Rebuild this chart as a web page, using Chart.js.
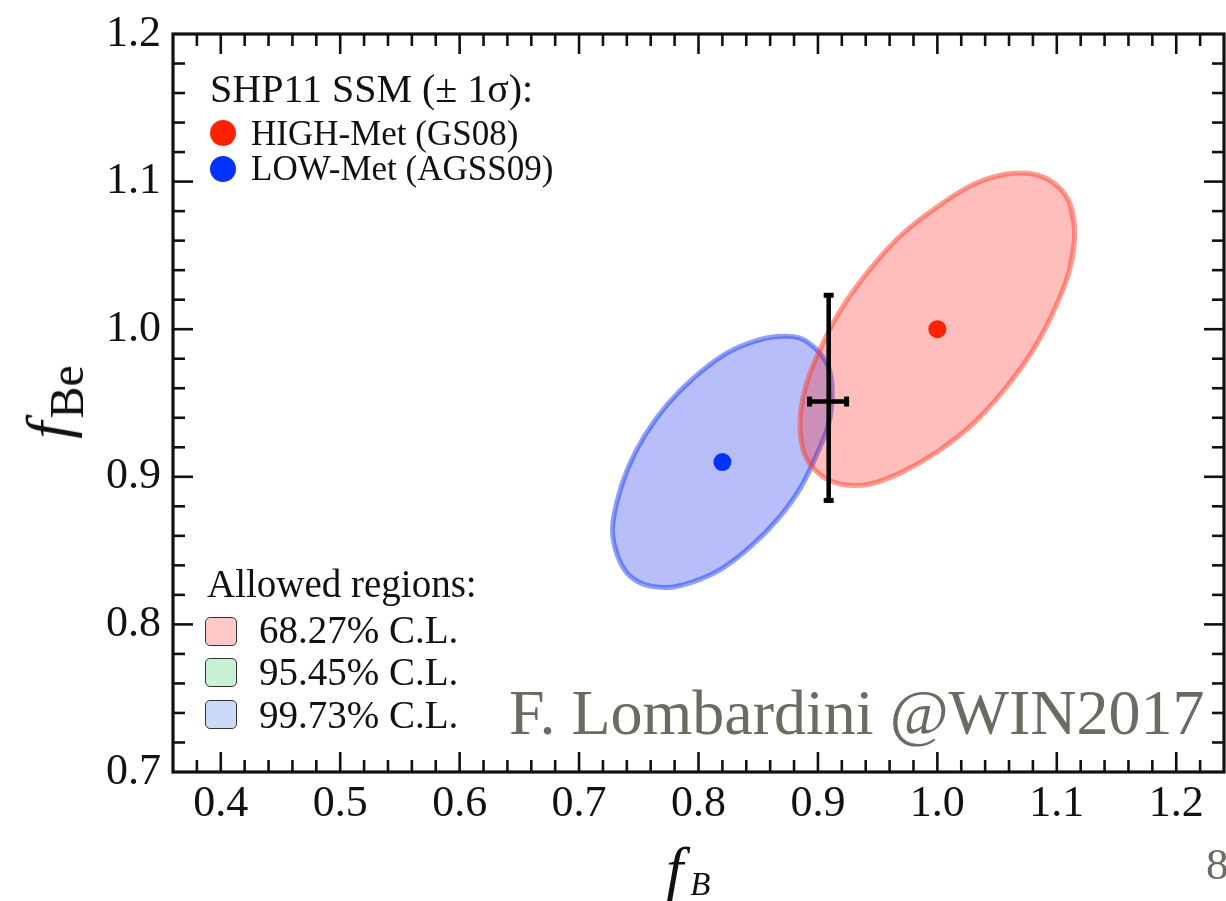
<!DOCTYPE html>
<html>
<head>
<meta charset="utf-8">
<script src="https://cdn.jsdelivr.net/npm/chart.js@4.4.1/dist/chart.umd.min.js"></script>
<style>
  body { margin: 0; background: #fff; overflow: hidden; }
  #wrap { position: relative; width: 1226px; height: 901px; font-family: "Liberation Serif", "DejaVu Serif", serif; color: #111; }
  #wrap canvas { position: absolute; left: 0; top: 0; }
  .txt { position: absolute; white-space: nowrap; line-height: 1; }
  .dot { position: absolute; width: 26px; height: 26px; border-radius: 50%; }
  .box { position: absolute; width: 30px; height: 27px; border: 1.6px solid #333; border-radius: 5px; }
</style>
</head>
<body>
<div id="wrap">
  <canvas id="chart" width="1226" height="901"></canvas>

  <!-- model legend -->
  <div class="txt" id="modelTitle" style="left:210px; top:69px; font-size:40px;"></div>
  <div class="dot" style="left:210px; top:120px; background:#ff2200;"></div>
  <div class="dot" style="left:210px; top:156px; background:#0033ff;"></div>
  <div class="txt" id="model0" style="left:251px; top:116px; font-size:35px;"></div>
  <div class="txt" id="model1" style="left:251px; top:151px; font-size:35px;"></div>

  <!-- regions legend -->
  <div class="txt" id="regionTitle" style="left:207px; top:564px; font-size:39px;"></div>
  <div class="box" style="left:205px; top:617px; background:#ffc9c7;"></div>
  <div class="box" style="left:205px; top:658px; background:#c9f1d3;"></div>
  <div class="box" style="left:205px; top:700px; background:#cbd9f6;"></div>
  <div class="txt" id="region0" style="left:259px; top:610px; font-size:39px;"></div>
  <div class="txt" id="region1" style="left:259px; top:652px; font-size:39px;"></div>
  <div class="txt" id="region2" style="left:259px; top:695px; font-size:39px;"></div>

  <!-- axis titles -->
  <div class="txt" style="left:666px; top:838px; font-size:62px;"><i>f</i><i style="font-size:33px; position:relative; top:5px; margin-left:7px;">B</i></div>
  <div class="txt" style="left:48px; top:402px; font-size:62px; transform: translate(-50%, -50%) rotate(-90deg);"><i>f</i><span style="font-size:48px; position:relative; top:14px; margin-left:3px;">Be</span></div>

  <!-- credit and page number -->
  <div class="txt" style="left:509px; top:681px; font-size:64px; color:#6d6a62;">F. Lombardini @WIN2017</div>
  <div class="txt" style="left:1206px; top:842px; font-size:45px; color:#6d6a62;">8</div>
</div>

<script>
// SHP11 standard solar model predictions (fB, fBe)
const modelTitle = "SHP11 SSM (\u00b1 1\u03c3):";
const modelNames = ["HIGH-Met (GS08)", "LOW-Met (AGSS09)"];
const modelFB = [1.00, 0.82];
const modelFBe = [1.00, 0.91];
const modelColors = ["#ff2200", "#0033ff"];

// 1 sigma contours
const highMetFB = [1.115, 1.111, 1.099, 1.081, 1.057, 1.030, 1.000, 0.970, 0.943, 0.919, 0.901, 0.889,
                   0.885, 0.889, 0.901, 0.919, 0.943, 0.970, 1.000, 1.030, 1.057, 1.081, 1.099, 1.111];
const highMetFBe = [1.065, 1.085, 1.098, 1.105, 1.105, 1.098, 1.083, 1.064, 1.040, 1.013, 0.985, 0.959,
                    0.935, 0.915, 0.902, 0.895, 0.895, 0.903, 0.917, 0.936, 0.960, 0.987, 1.015, 1.041];
const lowMetFB = [0.912, 0.909, 0.899, 0.885, 0.866, 0.844, 0.820, 0.796, 0.774, 0.755, 0.741, 0.732,
                  0.728, 0.732, 0.741, 0.755, 0.774, 0.796, 0.820, 0.844, 0.866, 0.885, 0.899, 0.909];
const lowMetFBe = [0.957, 0.974, 0.986, 0.994, 0.995, 0.991, 0.982, 0.967, 0.949, 0.928, 0.906, 0.884,
                   0.864, 0.847, 0.834, 0.827, 0.825, 0.829, 0.838, 0.853, 0.871, 0.892, 0.915, 0.936];

// measured point with errors
const measFB = 0.909;
const measFBLow = 0.893;
const measFBHigh = 0.924;
const measFBe = 0.951;
const measFBeLow = 0.884;
const measFBeHigh = 1.023;

// legend of allowed regions
const regionTitle = "Allowed regions:";
const regionNames = ["68.27% C.L.", "95.45% C.L.", "99.73% C.L."];

// axis ranges and ticks
const xRange = [0.36, 1.24];
const yRange = [0.7, 1.2];
const minorStep = 0.02;

document.getElementById("modelTitle").textContent = modelTitle;
modelNames.forEach((n, i) => document.getElementById("model" + i).textContent = n);
document.getElementById("regionTitle").textContent = regionTitle;
regionNames.forEach((n, i) => document.getElementById("region" + i).textContent = n);

const toPoints = (xs, ys) => xs.map((x, i) => ({ x, y: ys[i] }));
// wrap the contour so the smoothed line closes without a corner
const closedLoop = (xs, ys) => {
  const p = toPoints(xs, ys);
  return [p[p.length - 1], ...p, p[0], p[1]];
};
const isMajor = v => Math.abs(v * 10 - Math.round(v * 10)) < 1e-6;

// frame with inward ticks on all four sides
const framePlugin = {
  id: "frame",
  afterDatasetsDraw(chart) {
    const { ctx, chartArea: a, scales } = chart;
    ctx.save();
    ctx.strokeStyle = "#111";
    ctx.lineWidth = 2.6;
    const seg = (x1, y1, x2, y2) => { ctx.beginPath(); ctx.moveTo(x1, y1); ctx.lineTo(x2, y2); ctx.stroke(); };
    scales.x.ticks.forEach(t => {
      if (t.value <= scales.x.min + 1e-9 || t.value >= scales.x.max - 1e-9) return;
      const px = scales.x.getPixelForValue(t.value);
      const len = t.label ? 20 : 12;
      seg(px, a.bottom, px, a.bottom - len);
      seg(px, a.top, px, a.top + len);
    });
    scales.y.ticks.forEach(t => {
      if (t.value <= scales.y.min + 1e-9 || t.value >= scales.y.max - 1e-9) return;
      const py = scales.y.getPixelForValue(t.value);
      const len = t.label ? 20 : 12;
      seg(a.left, py, a.left + len, py);
      seg(a.right, py, a.right - len, py);
    });
    ctx.lineWidth = 3.2;
    ctx.strokeRect(a.left, a.top, a.right - a.left, a.bottom - a.top);
    ctx.restore();
  }
};

const tickFont = { family: "'Liberation Serif', 'DejaVu Serif', serif", size: 44 };
const noPad = s => { s.paddingLeft = 0; s.paddingRight = 0; s.paddingTop = 0; s.paddingBottom = 0; };

new Chart(document.getElementById("chart"), {
  type: "scatter",
  data: {
    datasets: [
      {
        type: "line",
        data: [{ x: measFB, y: measFBeLow }, { x: measFB, y: measFBeHigh }],
        borderColor: "#000",
        borderWidth: 4.5,
        pointStyle: "line",
        pointRadius: 5,
        pointBorderWidth: 5,
        pointBorderColor: "#000",
        pointRotation: 0,
        fill: false
      },
      {
        type: "line",
        data: [{ x: measFBLow, y: measFBe }, { x: measFBHigh, y: measFBe }],
        borderColor: "#000",
        borderWidth: 4.5,
        pointStyle: "line",
        pointRadius: 5,
        pointBorderWidth: 5,
        pointBorderColor: "#000",
        pointRotation: 90,
        fill: false
      },
      {
        type: "scatter",
        data: toPoints(modelFB, modelFBe),
        pointRadius: 9,
        pointBorderWidth: 0,
        pointBackgroundColor: modelColors
      },
      {
        type: "line",
        data: closedLoop(highMetFB, highMetFBe),
        tension: 0.34,
        fill: "shape",
        backgroundColor: "rgba(255, 23, 16, 0.28)",
        borderColor: "rgba(255, 60, 40, 0.5)",
        borderWidth: 5,
        pointRadius: 0
      },
      {
        type: "line",
        data: closedLoop(lowMetFB, lowMetFBe),
        tension: 0.34,
        fill: "shape",
        backgroundColor: "rgba(0, 23, 237, 0.28)",
        borderColor: "rgba(5, 45, 245, 0.45)",
        borderWidth: 5,
        pointRadius: 0
      }
    ]
  },
  options: {
    responsive: false,
    devicePixelRatio: 1,
    animation: false,
    events: [],
    layout: { autoPadding: false, padding: { top: 34, right: 2, left: 0, bottom: 0 } },
    plugins: { legend: { display: false }, tooltip: { enabled: false } },
    scales: {
      x: {
        type: "linear",
        min: xRange[0],
        max: xRange[1],
        grid: { display: false, drawTicks: false },
        border: { display: false },
        ticks: {
          stepSize: minorStep,
          autoSkip: false,
          maxRotation: 0,
          padding: 6,
          color: "#111",
          font: tickFont,
          callback: v => isMajor(v) ? v.toFixed(1) : ""
        },
        afterFit: s => { s.height = 129; noPad(s); }
      },
      y: {
        type: "linear",
        min: yRange[0],
        max: yRange[1],
        grid: { display: false, drawTicks: false },
        border: { display: false },
        ticks: {
          stepSize: minorStep,
          autoSkip: false,
          padding: 12,
          color: "#111",
          font: tickFont,
          callback: v => isMajor(v) ? v.toFixed(1) : ""
        },
        afterFit: s => { s.width = 173; noPad(s); }
      }
    }
  },
  plugins: [framePlugin]
});
</script>
</body>
</html>
